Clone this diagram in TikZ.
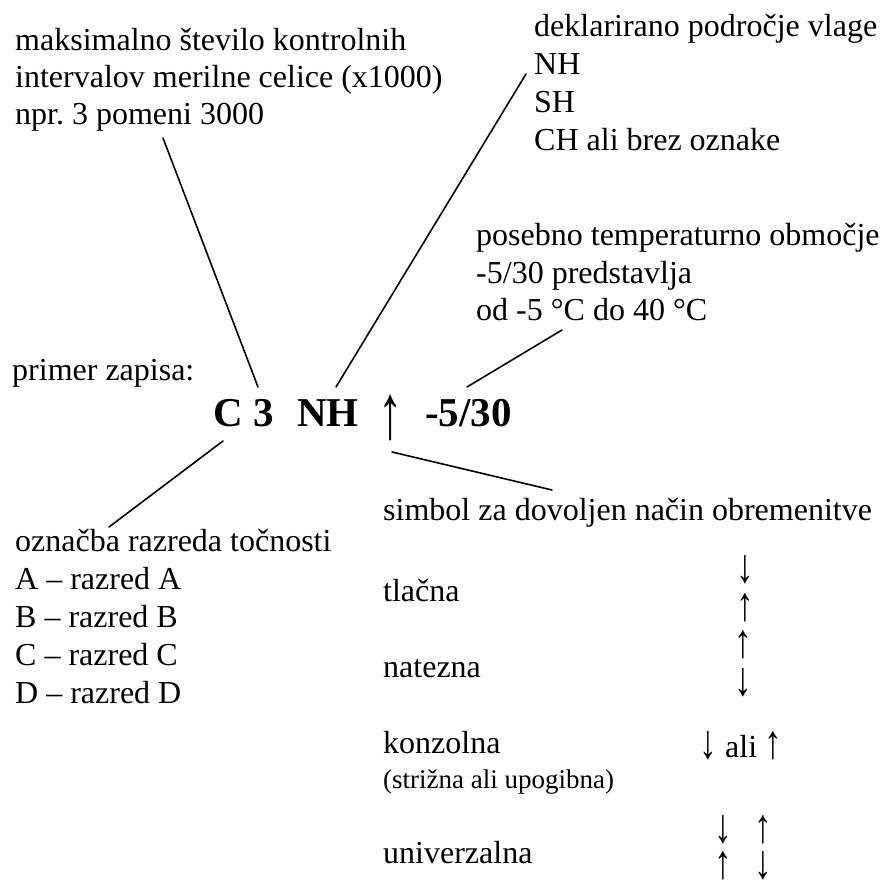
\documentclass[tikz,border=0pt]{standalone}
\usepackage{fontspec}
\setmainfont{Liberation Serif}
\frenchspacing
\begin{document}
\begin{tikzpicture}[x=1pt,y=-1pt,
  txt/.style={inner sep=0pt, anchor=base west, font=\fontsize{32}{37}\selectfont},
  smalltxt/.style={inner sep=0pt, anchor=base west, font=\fontsize{27}{31}\selectfont},
  code/.style={inner sep=0pt, anchor=base west, font=\fontsize{41}{47}\selectfont\bfseries},
  arr/.style={inner sep=0pt, anchor=center, font=\fontsize{32}{37}\selectfont},
  conn/.style={line width=1.6pt, line cap=round}]
\newcommand{\tallarr}[1]{\scalebox{1.1}[1.5]{#1}}
\useasboundingbox (0,0) rectangle (884,882);
% top-left block
\node[txt] (a1) at (15,51) {maksimalno število kontrolnih};
\node[txt] (a2) at (15,88) {intervalov merilne celice (x1000)};
\node[txt] (a3) at (15,125) {npr. 3 pomeni 3000};
% top-right block
\node[txt] (b1) at (534,37) {deklarirano področje vlage};
\node[txt] (b2) at (534,75) {NH};
\node[txt] (b3) at (534,113) {SH};
\node[txt] (b4) at (534,151) {CH ali brez oznake};
% temperature block
\node[txt] (c1) at (476,246) {posebno temperaturno območje};
\node[txt] (c2) at (476,284) {-5/30 predstavlja};
\node[txt] (c3) at (476,321) {od -5 °C do 40 °C};
% example
\node[txt] (p) at (12,381) {primer zapisa:};
\node[code] (kC) at (213,427) {C};
\node[code] (k3) at (253,427) {3};
\node[code] (kNH) at (297,427) {NH};
\node[inner sep=0pt, anchor=center, font=\fontsize{44}{50}\selectfont] (kArr) at (391,418) {\scalebox{1.1}[1.75]{↑}};
\node[code] (kT) at (425,427) {-5/30};
% accuracy class block
\node[txt] (d1) at (15,551) {označba razreda točnosti};
\node[txt] (d2) at (15,589) {A – razred A};
\node[txt] (d3) at (15,627) {B – razred B};
\node[txt] (d4) at (15,665) {C – razred C};
\node[txt] (d5) at (15,703) {D – razred D};
% load mode block
\node[txt] (e1) at (383,520) {simbol za dovoljen način obremenitve};
\node[txt] (e2) at (383,601) {tlačna};
\node[txt] (e3) at (383,677) {natezna};
\node[txt] (e4) at (383,753) {konzolna};
\node[smalltxt] (e5) at (383,788) {(strižna ali upogibna)};
\node[txt] (e6) at (383,863) {univerzalna};
\node[arr] (t1) at (745,570) {\tallarr{↓}};
\node[arr] (t2) at (745,608) {\tallarr{↑}};
\node[arr] (n1) at (743,645) {\tallarr{↑}};
\node[arr] (n2) at (743,683) {\tallarr{↓}};
\node[arr] (k1) at (708,746) {\tallarr{↓}};
\node[txt] (k2) at (725,757) {ali};
\node[arr] (k3r) at (773,746) {\tallarr{↑}};
\node[arr] (u1) at (723,830) {\tallarr{↓}};
\node[arr] (u2) at (763,830) {\tallarr{↑}};
\node[arr] (u3) at (723,866) {\tallarr{↑}};
\node[arr] (u4) at (763,866) {\tallarr{↓}};
% connector end points
\coordinate (l1a) at (163,138);
\coordinate (l1b) at (258,387);
\coordinate (l2a) at (526,74);
\coordinate (l2b) at (336,387);
\coordinate (l3a) at (562,330);
\coordinate (l3b) at (467,387);
\coordinate (l4a) at (223,441);
\coordinate (l4b) at (109,527);
\coordinate (l5a) at (392,452);
\coordinate (l5b) at (552,490);
\draw[conn] (l1a) -- (l1b);
\draw[conn] (l2a) -- (l2b);
\draw[conn] (l3a) -- (l3b);
\draw[conn] (l4a) -- (l4b);
\draw[conn] (l5a) -- (l5b);
\end{tikzpicture}
\end{document}
